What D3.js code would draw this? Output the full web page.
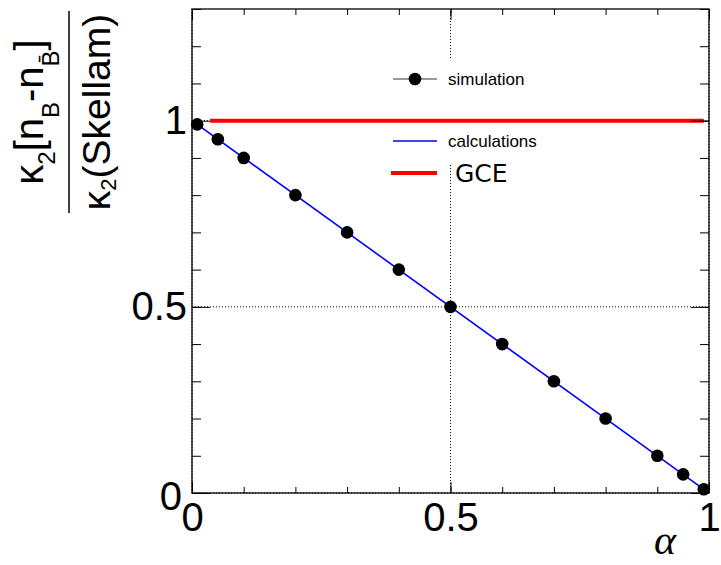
<!DOCTYPE html>
<html>
  <head>
    <meta charset="utf-8">
    <title>Skellam ratio vs alpha</title>
    <style>
      body { margin: 0; background: #fff; }
      svg text { font-family: "Liberation Sans", Arial, sans-serif; fill: #000; }
      .grid { stroke: #000; stroke-width: 1; stroke-dasharray: 1,2; }
    </style>
  </head>
  <body>
    <div id="chart"></div>
    <script src="https://d3js.org/d3.v7.min.js"></script>
    <script>
      // simulation points
      const simAlpha = [0.01, 0.05, 0.1, 0.2, 0.3, 0.4, 0.5, 0.6, 0.7, 0.8, 0.9, 0.95, 0.99];
      const simValue = [0.99, 0.95, 0.9, 0.8, 0.7, 0.6, 0.5, 0.4, 0.3, 0.2, 0.1, 0.05, 0.01];
      // calculations (blue line)
      const calcAlpha = [0.01, 0.99];
      const calcValue = [0.99, 0.01];
      // GCE (red line)
      const gceAlpha = [0.035, 0.99];
      const gceValue = [1, 1];

      const xMajor = [0, 0.5, 1];
      const xTickLabels = ["0", "0.5", "1"];
      const yMajor = [0, 0.5, 1];
      const yTickLabels = ["0", "0.5", "1"];

      const width = 721, height = 565;
      const frame = { left: 192, right: 709, top: 9, bottom: 493 };

      const svg = d3.select("#chart").append("svg")
          .attr("width", width)
          .attr("height", height);

      const x = d3.scaleLinear().domain([0, 1]).range([frame.left, frame.right]);
      const y = d3.scaleLinear().domain([0, 1.3]).range([frame.bottom, frame.top]);

      const xMinor = x.ticks(10);
      const yMinor = y.ticks(13);

      // grid at the labelled ticks
      svg.selectAll(".gx").data(xMajor).enter().append("line")
          .attr("class", "grid")
          .attr("x1", d => x(d)).attr("x2", d => x(d))
          .attr("y1", frame.top).attr("y2", frame.bottom);
      svg.selectAll(".gy").data(yMajor).enter().append("line")
          .attr("class", "grid")
          .attr("y1", d => y(d)).attr("y2", d => y(d))
          .attr("x1", frame.left).attr("x2", frame.right);

      // legend box (white fill hides the grid)
      svg.append("rect")
          .attr("x", 385).attr("y", 58)
          .attr("width", 175).attr("height", 106)
          .attr("fill", "#fff");

      // calculations
      const line = d3.line().x(d => x(d[0])).y(d => y(d[1]));
      svg.append("path")
          .datum(d3.zip(calcAlpha, calcValue))
          .attr("d", line)
          .attr("fill", "none")
          .attr("stroke", "#0000ff")
          .attr("stroke-width", 1.6);

      // GCE
      svg.append("path")
          .datum(d3.zip(gceAlpha, gceValue))
          .attr("d", line)
          .attr("fill", "none")
          .attr("stroke", "#ff0000")
          .attr("stroke-width", 4);

      // simulation markers
      svg.selectAll(".dot")
          .data(d3.zip(simAlpha, simValue))
          .enter().append("circle")
          .attr("cx", d => x(d[0]))
          .attr("cy", d => y(d[1]))
          .attr("r", 6.3)
          .attr("fill", "#000");

      // frame
      svg.append("rect")
          .attr("x", frame.left).attr("y", frame.top)
          .attr("width", frame.right - frame.left)
          .attr("height", frame.bottom - frame.top)
          .attr("fill", "none")
          .attr("stroke", "#000")
          .attr("stroke-width", 1.3);

      // ticks, pointing inward on all four sides
      function ticks(axis, values, size, tr) {
        const g = svg.append("g").attr("transform", tr)
            .call(axis.tickValues(values).tickSize(-size).tickFormat(""));
        g.select(".domain").remove();
        g.selectAll(".tick line").attr("stroke", "#000");
        return g;
      }
      ticks(d3.axisBottom(x), xMinor, 6, `translate(0,${frame.bottom})`);
      ticks(d3.axisBottom(x), xMajor, 11, `translate(0,${frame.bottom})`);
      ticks(d3.axisTop(x), xMinor, 6, `translate(0,${frame.top})`);
      ticks(d3.axisTop(x), xMajor, 11, `translate(0,${frame.top})`);
      ticks(d3.axisLeft(y), yMinor, 9, `translate(${frame.left},0)`);
      ticks(d3.axisLeft(y), yMajor, 18, `translate(${frame.left},0)`);
      ticks(d3.axisRight(y), yMinor, 9, `translate(${frame.right},0)`);
      ticks(d3.axisRight(y), yMajor, 18, `translate(${frame.right},0)`);

      // tick labels
      const xl = svg.append("g")
          .attr("transform", `translate(0,${frame.bottom})`)
          .call(d3.axisBottom(x).tickValues(xMajor).tickSize(0).tickPadding(10)
              .tickFormat((d, i) => xTickLabels[i]));
      xl.select(".domain").remove();
      xl.selectAll("text").style("font-size", "40px").style("font-family", "Liberation Sans, Arial, sans-serif");

      const yl = svg.append("g")
          .attr("transform", `translate(${frame.left},0)`)
          .call(d3.axisLeft(y).tickValues(yMajor).tickSize(0).tickPadding(5)
              .tickFormat((d, i) => yTickLabels[i]));
      yl.select(".domain").remove();
      yl.selectAll("text").style("font-size", "40px").style("font-family", "Liberation Sans, Arial, sans-serif");
      // the zero label sits a little lower and to the left, as in the original
      yl.selectAll(".tick").filter(d => d === 0).select("text")
          .attr("dx", -5).attr("dy", "0.42em");

      // x title
      svg.append("text")
          .attr("x", 676).attr("y", 554)
          .attr("text-anchor", "end")
          .style("font-family", "Liberation Serif, serif")
          .style("font-style", "italic")
          .style("font-size", "42px")
          .text("\u03b1");

      // y title: fraction, rotated
      const t = svg.append("g").attr("transform", "translate(69,112) rotate(-90)");
      t.append("line")
          .attr("x1", -101).attr("x2", 101)
          .attr("stroke", "#000").attr("stroke-width", 1.5);

      const num = t.append("text")
          .attr("x", 0).attr("y", -26)
          .attr("text-anchor", "middle")
          .style("font-size", "40px");
      num.append("tspan").text("\u03ba");
      num.append("tspan").attr("dy", 12).style("font-size", "24px").text("2");
      num.append("tspan").attr("dy", -12).text("[n");
      num.append("tspan").attr("dy", 16).style("font-size", "24px").text("B");
      num.append("tspan").attr("dy", -16).text("-n");
      num.append("tspan").attr("dy", 16).style("font-size", "24px").text("B\u0304");
      num.append("tspan").attr("dy", -16).text("]");

      const den = t.append("text")
          .attr("x", 0).attr("y", 41)
          .attr("text-anchor", "middle")
          .style("font-size", "39px");
      den.append("tspan").text("\u03ba");
      den.append("tspan").attr("dy", 6).style("font-size", "22px").text("2");
      den.append("tspan").attr("dy", -6).text("(Skellam)");

      // legend
      const leg = svg.append("g");
      leg.append("line").attr("x1", 393).attr("x2", 437).attr("y1", 79).attr("y2", 79)
          .attr("stroke", "#333").attr("stroke-width", 1);
      leg.append("circle").attr("cx", 415).attr("cy", 79).attr("r", 6.3).attr("fill", "#000");
      leg.append("text").attr("x", 448).attr("y", 85).style("font-size", "17px").text("simulation");

      leg.append("line").attr("x1", 393).attr("x2", 437).attr("y1", 141).attr("y2", 141)
          .attr("stroke", "#0000ff").attr("stroke-width", 1.6);
      leg.append("text").attr("x", 448).attr("y", 147).style("font-size", "17px").text("calculations");

      leg.append("line").attr("x1", 391).attr("x2", 437).attr("y1", 173).attr("y2", 173)
          .attr("stroke", "#ff0000").attr("stroke-width", 4);
      leg.append("text").attr("x", 455).attr("y", 182)
          .style("font-family", "DejaVu Sans, sans-serif")
          .style("font-size", "25px").text("GCE");
    </script>
  </body>
</html>
